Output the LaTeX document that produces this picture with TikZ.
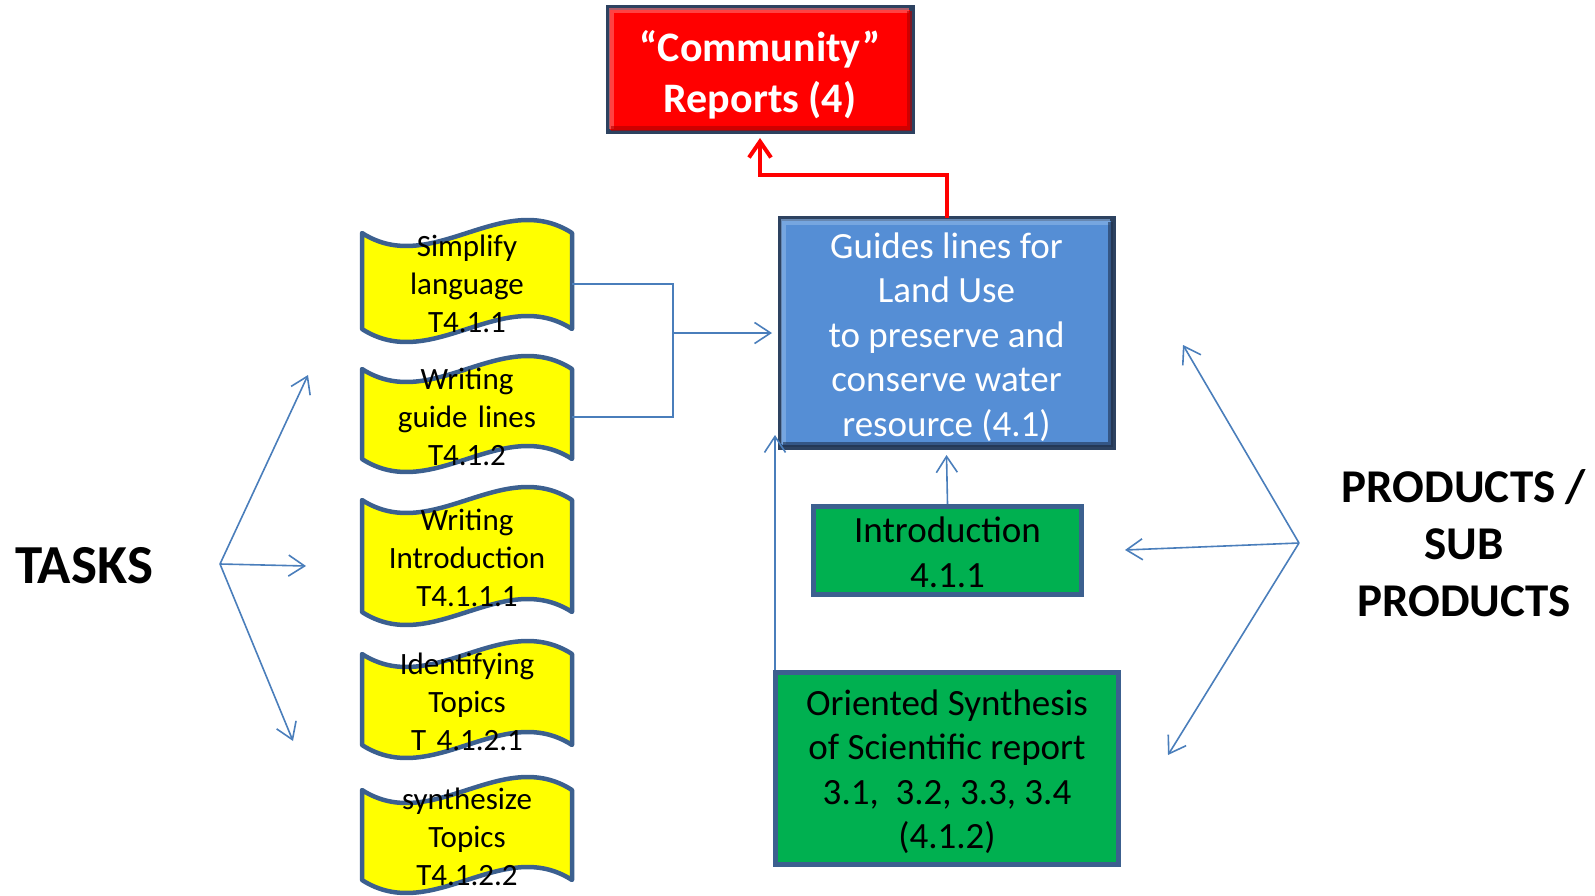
\documentclass[tikz,border=0pt]{standalone}
\usepackage{fontspec}
\setmainfont{Carlito}
\usetikzlibrary{arrows.meta,calc}

\definecolor{connblue}{RGB}{74,126,187}
\definecolor{tapeedge}{RGB}{60,96,143}
\definecolor{tapefill}{RGB}{255,255,0}
\definecolor{guidefill}{RGB}{85,142,213}
\definecolor{boxedge}{RGB}{45,66,96}
\definecolor{greenfill}{RGB}{0,176,80}
\definecolor{greenedge}{RGB}{60,96,143}
\definecolor{reportred}{RGB}{255,0,0}
\definecolor{replight}{RGB}{255,110,110}
\definecolor{repdark}{RGB}{175,0,0}
\definecolor{guidelight}{RGB}{140,182,232}
\definecolor{guidedark}{RGB}{30,50,80}

% punched-tape outline: #1 left x, #2 top extreme, #3 bottom extreme (210 wide)
\newcommand\tapeshape[3]{%
  \draw[tapeline] (#1,#2+13)
    .. controls (#1+70,#2+58) and (#1+140,#2-32) .. (#1+210,#2+13)
    -- (#1+210,#3-13)
    .. controls (#1+140,#3-58) and (#1+70,#3+32) .. (#1,#3-13)
    -- cycle;}

\begin{document}
\begin{tikzpicture}[x=1pt,y=-1pt,
  tapeline/.style={draw=tapeedge,fill=tapefill,line width=4.5pt,line join=round},
  tapetext/.style={text width=210pt,align=center,inner sep=0pt,text=black,
    font=\fontsize{31}{38}\selectfont},
  conn/.style={draw=connblue,line width=1.6pt},
  tipped/.style={-{Straight Barb[length=16pt,width=21pt]}},
  bevelbox/.style={draw=boxedge,line width=3pt,align=center,inner sep=0pt},
  greenbox/.style={draw=greenedge,fill=greenfill,line width=5pt,inner sep=0pt},
  greentext/.style={align=center,inner sep=0pt,text=black,
    font=\fontsize{37}{44.5}\selectfont},
  bigword/.style={text=black,align=center,inner sep=0pt}
]
\useasboundingbox (0,0) rectangle (1595,896);

% task banners
\tapeshape{362}{220}{342}
\tapeshape{362}{356}{472}
\tapeshape{362}{487}{625}
\tapeshape{362}{641}{758}
\tapeshape{362}{777}{893}

\node[tapetext] (t1) at (467,284) {Simplify\\language\\T4.1.1};
\node[tapetext] (t2) at (467,417) {Writing\\guide lines\\T4.1.2};
\node[tapetext] (t3) at (467,558) {Writing\\Introduction\\T4.1.1.1};
\node[tapetext] (t4) at (467,702) {Identifying\\Topics\\T 4.1.2.1};
\node[tapetext] (t5) at (467,837) {synthesize\\Topics\\T4.1.2.2};

% product boxes
\node[bevelbox,fill=reportred,minimum width=303pt,minimum height=123pt] (rep) at (760,70) {};
\node[bevelbox,fill=guidefill,minimum width=332pt,minimum height=227pt] (guide) at (946.5,333) {};
\node[greenbox,minimum width=268pt,minimum height=88pt] (intro) at (947.5,550.5) {};
\node[greenbox,minimum width=343pt,minimum height=192pt] (osyn) at (947,768.5) {};
\node[greentext] (introtext) at ([yshift=-2pt]intro.center) {Introduction\\4.1.1};
\node[greentext] (osyntext) at ([yshift=-3pt]osyn.center)
  {Oriented Synthesis\\of Scientific report\\3.1,\ \ 3.2, 3.3, 3.4\\(4.1.2)};

% bevel edges on the two upper boxes
\foreach \b/\lt/\dk in {rep/replight/repdark, guide/guidelight/guidedark}{
  \draw[\lt,line width=5pt,opacity=0.6]
    ([shift={(4pt,4pt)}]\b.south west) |- ([shift={(-4pt,-4pt)}]\b.north east);
  \draw[\dk,line width=5pt,opacity=0.6]
    ([shift={(4pt,4pt)}]\b.south west) -| ([shift={(-4pt,-4pt)}]\b.north east);
  \draw[boxedge,line width=3pt] (\b.south west) rectangle (\b.north east);
}
\node[bevelbox,draw=none,text=white,font=\bfseries\fontsize{42}{51}\selectfont]
  (reptext) at ([yshift=-5pt]rep.center) {“Community”\\Reports (4)};
\node[bevelbox,draw=none,text=white,font=\fontsize{37}{44.5}\selectfont]
  (guidetext) at ([yshift=-4pt]guide.center)
  {Guides lines for\\Land Use\\to preserve and\\conserve water\\resource (4.1)};

% side labels
\node[bigword,font=\bfseries\fontsize{55}{66}\selectfont] (tasks) at (84,566) {TASKS};
\node[bigword,font=\bfseries\fontsize{47}{57}\selectfont] (prod) at (1464,543)
  {PRODUCTS /\\SUB\\PRODUCTS};

% connectors
\coordinate (jx) at (673,350);
\draw[conn] (t1.east) -- (t1.east -| jx) -- (t2.east -| jx) -- (t2.east);
\draw[conn,tipped] (jx |- guide.west) -- ([xshift=-7pt]guide.west);
\draw[conn,tipped] (intro.north) -- ([yshift=-7pt]guide.south);
\draw[conn,tipped] ([xshift=2pt]osyn.north west) -- ++(0,-235);
\draw[draw=reportred,line width=4pt,-{Straight Barb[length=16pt,width=22pt]}]
  (guide.north) -- ++(0,-43) -| ([yshift=-5pt]rep.south);

% fans from the side labels
\coordinate (tk) at (220,564);
\coordinate (ta1) at (308,375);
\coordinate (ta2) at (306,566);
\coordinate (ta3) at (293,741);
\foreach \e in {ta1,ta2,ta3} \draw[conn,tipped] (tk) -- (\e);
\coordinate (pk) at (1299,543);
\coordinate (pa1) at (1183,345);
\coordinate (pa2) at (1125,550);
\coordinate (pa3) at (1168,755);
\foreach \e in {pa1,pa2,pa3} \draw[conn,tipped] (pk) -- (\e);
\end{tikzpicture}
\end{document}
